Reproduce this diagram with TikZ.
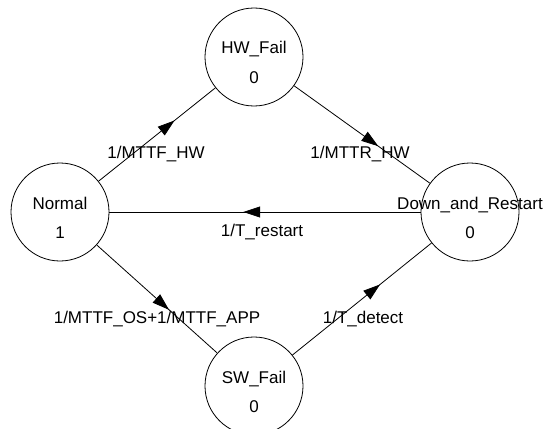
\documentclass[tikz,border=0pt]{standalone}
\usepackage{fontspec}
\setmainfont{Liberation Sans}
\usetikzlibrary{arrows.meta,decorations.markings}

\tikzset{
  state/.style={circle, draw, line width=0.8pt, minimum size=98pt, inner sep=0pt},
  txt/.style={anchor=base, inner sep=0pt, font=\fontsize{17}{20}\selectfont},
  flow/.style={draw, line width=0.8pt, postaction={decorate},
    decoration={markings, mark=at position #1 with {\arrow{Triangle[length=17pt,width=11pt]}}}},
  lbl/.style={txt, yshift=-24pt}
}

\begin{document}
\begin{tikzpicture}[x=1pt, y=-1pt]
  \useasboundingbox (0,0) rectangle (543,428);
  \fill[white] (0,0) rectangle (543,428);

  % states
  \node[state] (normal) at (60,212) {};
  \node[state] (hw)     at (254,57) {};
  \node[state] (down)   at (470,212) {};
  \node[state] (sw)     at (254,386) {};

  % state names and values
  \node[txt] (normal-n) at ([yshift=3pt]normal.center)   {Normal};
  \node[txt] (normal-v) at ([yshift=-26pt]normal.center) {1};
  \node[txt] (hw-n)     at ([yshift=3pt]hw.center)       {HW\_Fail};
  \node[txt] (hw-v)     at ([yshift=-26pt]hw.center)     {0};
  \node[txt] (down-n)   at ([yshift=3pt]down.center)     {Down\_and\_Restart};
  \node[txt] (down-v)   at ([yshift=-26pt]down.center)   {0};
  \node[txt] (sw-n)     at ([yshift=3pt]sw.center)       {SW\_Fail};
  \node[txt] (sw-v)     at ([yshift=-26pt]sw.center)     {0};

  % transitions
  \draw[flow=0.65] (normal) -- node[lbl, xshift=-1pt] (l1) {1/MTTF\_HW} (hw);
  \draw[flow=0.62] (hw) -- node[lbl, xshift=-2pt] (l2) {1/MTTR\_HW} (down);
  \draw[flow=0.57] (down) -- node[lbl, xshift=-3pt] (l3) {1/T\_restart} (normal);
  \draw[flow=0.60] (normal) -- node[lbl] (l4) {1/MTTF\_OS+1/MTTF\_APP} (sw);
  \draw[flow=0.63] (sw) -- node[lbl, xshift=1pt] (l5) {1/T\_detect} (down);
\end{tikzpicture}
\end{document}
